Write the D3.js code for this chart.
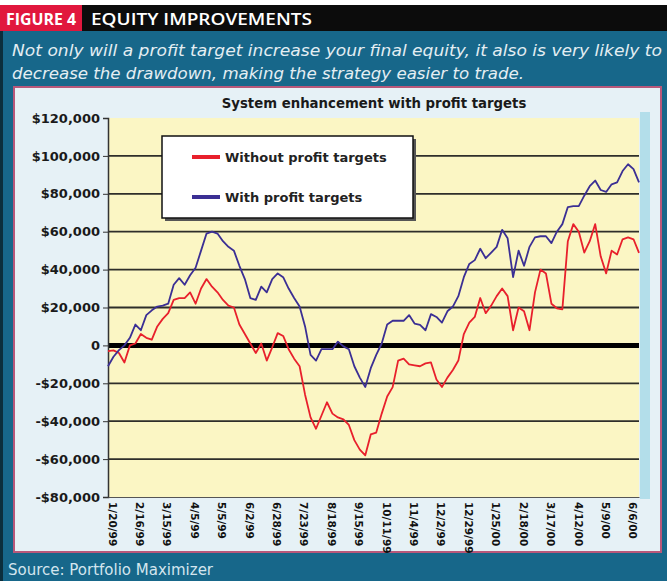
<!DOCTYPE html>
<html>
<head>
<meta charset="utf-8">
<script src="https://cdn.jsdelivr.net/npm/d3@7"></script>
<style>
  body { margin: 0; background: #fff; }
  svg { display: block; }
</style>
</head>
<body>
<div id="chart"></div>
<script>
// tick labels on the date axis (one every 19 trading days)
const dateLabels = ['1/20/99', '2/16/99', '3/15/99', '4/5/99', '5/5/99', '6/2/99', '6/28/99',
  '7/23/99', '8/18/99', '9/15/99', '10/11/99', '11/4/99', '12/2/99', '12/29/99', '1/25/00',
  '2/18/00', '3/17/00', '4/12/00', '5/9/00', '6/6/00'];
const daysPerLabel = 19;
const lastDay = 368;

// equity, in thousands of dollars, sampled evenly from day 0 to lastDay
const withoutTargets = [-3, -2.6, -4, -9, 0, 1, 6, 4, 3, 10, 14, 17, 24, 25, 25, 28, 22, 30, 35, 31,
  28, 24, 21, 20, 11, 6, 1, -4, 1, -8, -1, 6.5, 5, -2, -7, -11, -26, -38, -44, -37,
  -30, -36, -38, -39, -42, -50, -55, -58, -47, -46, -36, -27, -22, -8, -7, -10, -10.5, -11, -9.5, -9,
  -18, -22, -17, -13, -8, 6, 12, 15, 25, 17, 21, 26, 30, 26, 8, 20, 18, 8, 28, 40,
  38, 22, 19.6, 19, 55, 64, 60, 49, 55, 64, 47, 38, 50, 48, 56, 57, 56, 48.8];
const withTargets = [-11, -6, -2.5, 0, 4, 11, 8, 16, 18.5, 20.5, 21, 22, 32, 35.5, 32, 37, 41, 50, 59, 60,
  59, 55, 52, 50, 42, 35, 25, 24, 31, 28, 35, 38, 36, 30, 25, 20.5, 10, -5, -8, -2,
  -2, -2, 2, -0.5, -2, -11, -17, -22, -12, -5, 1, 11, 13, 13, 13, 16, 11.5, 10.8, 8, 16.5,
  15, 12, 18, 20.5, 26, 36, 43, 45, 51, 46, 49, 52, 61, 56.5, 36, 50, 42, 52, 57, 57.6,
  57.6, 54, 60, 64, 73, 73.5, 73.5, 79, 84, 87, 82, 81, 85, 86, 92, 95.6, 93, 86];

const yTicks = [-80, -60, -40, -20, 0, 20, 40, 60, 80, 100, 120];
const seriesNames = ['Without profit targets', 'With profit targets'];
const seriesColors = ['#e8202c', '#3b2f94'];

const W = 667, H = 581;
const plot = { left: 108, right: 639, top: 118, bottom: 497 };

const svg = d3.select('#chart').append('svg')
  .attr('width', W)
  .attr('height', H)
  .style('font-family', '"DejaVu Sans", Verdana, sans-serif');

// frame of the magazine figure
svg.append('rect').attr('width', W).attr('height', H).attr('fill', '#17678a');
svg.append('rect').attr('width', W).attr('height', 5).attr('fill', '#fff');
svg.append('rect').attr('y', 5).attr('width', W).attr('height', 26).attr('fill', '#0c0c0c');
svg.append('rect').attr('y', 5).attr('width', 82).attr('height', 26).attr('fill', '#e1173d');
svg.append('rect').attr('y', 31).attr('width', 3).attr('height', H - 31).attr('fill', '#0b2e3c');

svg.append('text')
  .attr('x', 6).attr('y', 24.5)
  .attr('fill', '#fff')
  .attr('textLength', 70)
  .attr('lengthAdjust', 'spacingAndGlyphs')
  .style('font-family', '"Open Sans", sans-serif')
  .style('font-weight', 700)
  .style('font-size', '16.5px')
  .text('FIGURE 4');
svg.append('text')
  .attr('x', 91).attr('y', 24.5)
  .attr('fill', '#fff')
  .attr('textLength', 221)
  .attr('lengthAdjust', 'spacingAndGlyphs')
  .style('font-family', '"Open Sans", sans-serif')
  .style('font-weight', 600)
  .style('font-size', '16.5px')
  .text('EQUITY IMPROVEMENTS');

svg.selectAll('.subtitle')
  .data([
    { text: 'Not only will a profit target increase your final equity, it also is very likely to', len: 650 },
    { text: 'decrease the drawdown, making the strategy easier to trade.', len: 512 }])
  .enter().append('text')
  .attr('class', 'subtitle')
  .attr('x', 12)
  .attr('y', (d, i) => 56 + i * 23)
  .attr('fill', '#e4eef3')
  .attr('textLength', d => d.len)
  .attr('lengthAdjust', 'spacingAndGlyphs')
  .style('font-style', 'italic')
  .style('font-size', '15.5px')
  .text(d => d.text);

svg.append('text')
  .attr('x', 8).attr('y', 575)
  .attr('fill', '#d3e5ee')
  .style('font-size', '15px')
  .text('Source: Portfolio Maximizer');

// chart panel
svg.append('rect')
  .attr('x', 14).attr('y', 87)
  .attr('width', 647).attr('height', 465)
  .attr('fill', '#e6f1f6')
  .attr('stroke', '#b8587a')
  .attr('stroke-width', 2);
svg.append('rect')
  .attr('x', plot.right + 1).attr('y', plot.top - 6)
  .attr('width', 10).attr('height', plot.bottom - plot.top + 8)
  .attr('fill', '#b3deea');

svg.append('text')
  .attr('x', 374).attr('y', 108)
  .attr('text-anchor', 'middle')
  .attr('fill', '#1a1a1a')
  .style('font-weight', 700)
  .style('font-size', '13.3px')
  .text('System enhancement with profit targets');

// scales
const x = d3.scaleLinear().domain([0, lastDay]).range([plot.left, plot.right]);
const y = d3.scaleLinear().domain([-80, 120]).range([plot.bottom, plot.top]);

svg.append('rect')
  .attr('x', plot.left).attr('y', plot.top)
  .attr('width', plot.right - plot.left).attr('height', plot.bottom - plot.top)
  .attr('fill', '#fbf6c4');

// gridlines
svg.append('g')
  .selectAll('line')
  .data(yTicks.filter(v => v > -80 && v < 120))
  .enter().append('line')
  .attr('x1', plot.left).attr('x2', plot.right)
  .attr('y1', d => y(d)).attr('y2', d => y(d))
  .attr('stroke', d => d === 0 ? '#000' : '#2e2e2a')
  .attr('stroke-width', d => d === 0 ? 5 : 1.8);

// y axis
const fmt = d3.format(',');
const yAxis = svg.append('g')
  .attr('transform', `translate(${plot.left},0)`)
  .call(d3.axisLeft(y)
    .tickValues(yTicks)
    .tickSize(5)
    .tickPadding(3)
    .tickFormat(v => v === 0 ? '0' : (v < 0 ? '-' : '') + '$' + fmt(Math.abs(v) * 1000)));
yAxis.select('.domain').attr('stroke', '#333').attr('stroke-width', 1.5);
yAxis.selectAll('.tick line').attr('stroke', '#333');
yAxis.selectAll('text')
  .attr('fill', '#1a1a1a')
  .style('font-weight', 700)
  .style('font-size', '13px')
  .style('font-family', '"DejaVu Sans", Verdana, sans-serif');

// x axis
const xAxis = svg.append('g')
  .attr('transform', `translate(0,${plot.bottom})`)
  .call(d3.axisBottom(x)
    .tickValues(dateLabels.map((d, i) => i * daysPerLabel))
    .tickSize(0)
    .tickFormat((d, i) => dateLabels[i]));
xAxis.select('.domain').attr('stroke', '#555').attr('stroke-width', 1);
xAxis.selectAll('text')
  .attr('transform', 'translate(0,5) rotate(90)')
  .attr('x', 0).attr('y', 0).attr('dy', 0)
  .attr('text-anchor', 'start')
  .attr('fill', '#111')
  .style('font-weight', 700)
  .style('font-size', '10.5px')
  .style('font-family', '"DejaVu Sans", Verdana, sans-serif');

// series
const step = lastDay / (withTargets.length - 1);
const line = d3.line()
  .x((d, i) => x(i * step))
  .y(d => y(d));

[withoutTargets, withTargets].forEach((values, k) => {
  svg.append('path')
    .datum(values)
    .attr('fill', 'none')
    .attr('stroke', seriesColors[k])
    .attr('stroke-width', 1.8)
    .attr('stroke-linejoin', 'round')
    .attr('d', line);
});

// legend
const legend = svg.append('g').attr('transform', 'translate(162,136)');
legend.append('rect')
  .attr('x', 3).attr('y', 3).attr('width', 251).attr('height', 82)
  .attr('fill', '#555');
legend.append('rect')
  .attr('width', 251).attr('height', 82)
  .attr('fill', '#fff')
  .attr('stroke', '#111')
  .attr('stroke-width', 1.5);
const entries = legend.selectAll('.entry')
  .data(seriesNames)
  .enter().append('g')
  .attr('class', 'entry')
  .attr('transform', (d, i) => `translate(0,${21 + i * 40})`);
entries.append('line')
  .attr('x1', 30).attr('x2', 58)
  .attr('stroke', (d, i) => seriesColors[i])
  .attr('stroke-width', 4);
entries.append('text')
  .attr('x', 63).attr('y', 5)
  .attr('fill', '#222')
  .style('font-weight', 700)
  .style('font-size', '13px')
  .text(d => d);
</script>
</body>
</html>
